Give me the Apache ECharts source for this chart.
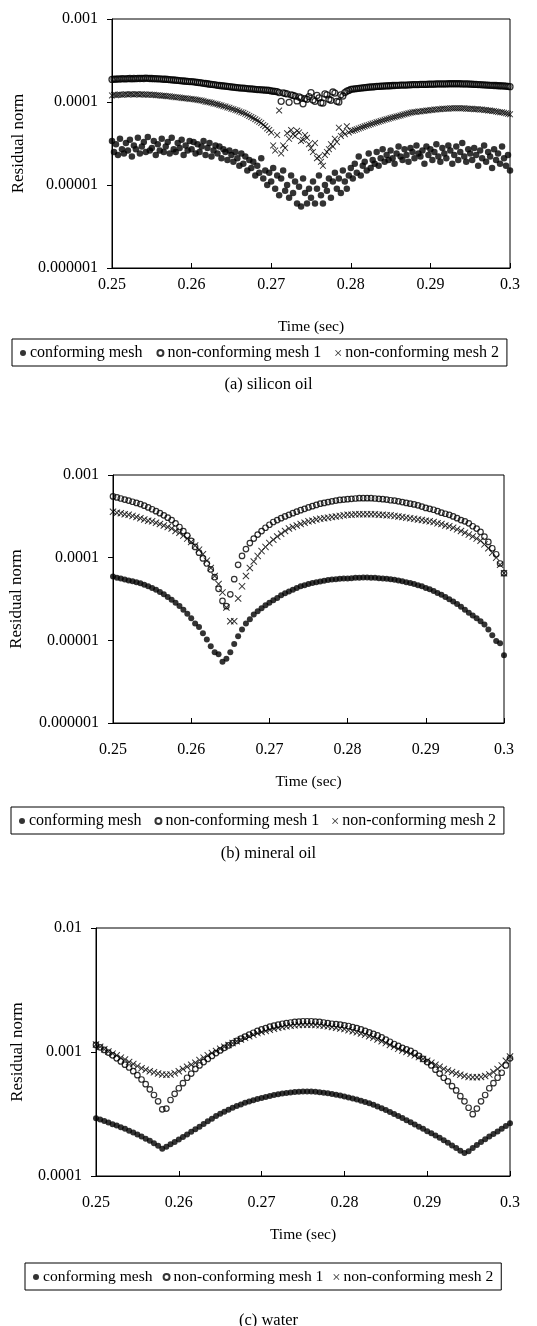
<!DOCTYPE html>
<html>
<head>
<meta charset="utf-8">
<script src="https://cdn.jsdelivr.net/npm/echarts@6/dist/echarts.min.js"></script>
<style>
  html, body { margin: 0; padding: 0; background: #fff; }
  #chart { width: 537px; height: 1326px; }
</style>
</head>
<body>
<div id="chart"></div>
<script>
// series names (legend)
var names = ['conforming mesh', 'non-conforming mesh 1', 'non-conforming mesh 2'];
var captions = ['(a) silicon oil', '(b) mineral oil', '(c) water'];

// tick labels
var xTicks = ['0.25', '0.26', '0.27', '0.28', '0.29', '0.3'];
var yTicksA = ['0.000001', '0.00001', '0.0001', '0.001'];
var yTicksB = ['0.000001', '0.00001', '0.0001', '0.001'];
var yTicksC = ['0.0001', '0.001', '0.01'];

// (a) silicon oil: dt = 0.00025 s
var aConf = [ // x 1e-5
  3.4, 2.5, 3.1, 2.3, 3.6, 2.7, 2.4, 3.2, 2.6, 3.5, 2.2, 3.0, 2.7, 3.7, 2.4, 2.9, 3.3, 2.5, 3.8, 2.6,
  2.8, 3.4, 2.3, 3.1, 2.6, 3.6, 2.5, 2.9, 3.3, 2.4, 3.7, 2.7, 2.5, 3.2, 2.8, 3.5, 2.3, 3.0, 2.6, 3.4,
  2.7, 3.3, 2.4, 3.1, 2.5, 2.9, 3.4, 2.3, 2.8, 3.2, 2.2, 2.6, 3.0, 2.4, 2.9, 2.1, 2.7, 2.5, 2.0, 2.6,
  2.3, 1.9, 2.5, 2.1, 1.7, 2.4, 1.8, 2.2, 1.5, 2.0, 1.6, 1.9, 1.3, 1.7, 1.4, 2.1, 1.2, 1.5, 1.0, 1.4,
  1.1, 1.6, 0.9, 1.3, 0.75, 1.2, 1.5, 0.85, 1.0, 0.7, 1.3, 0.8, 1.1, 0.6, 0.95, 0.55, 1.2, 0.8, 0.6, 0.9,
  0.7, 1.1, 0.6, 0.9, 1.3, 0.75, 0.6, 1.0, 0.85, 1.2, 0.7, 1.1, 1.4, 0.9, 1.2, 0.8, 1.5, 1.1, 0.9, 1.3,
  1.6, 1.2, 1.8, 1.4, 2.2, 1.3, 1.7, 1.9, 1.5, 2.4, 1.6, 2.0, 1.8, 2.5, 1.7, 2.1, 2.7, 1.9, 2.3, 2.0,
  2.6, 2.1, 1.8, 2.4, 2.9, 2.2, 2.0, 2.7, 2.3, 1.9, 2.8, 2.5, 2.1, 3.0, 2.4, 2.2, 2.6, 1.8, 2.9, 2.3,
  2.7, 2.0, 2.5, 3.1, 2.2, 1.9, 2.8, 2.4, 2.1, 3.0, 2.6, 1.8, 2.3, 2.9, 2.0, 2.5, 3.2, 2.2, 1.9, 2.7,
  2.4, 2.0, 2.8, 2.3, 1.7, 2.6, 2.1, 3.0, 1.9, 2.5, 2.2, 1.6, 2.7, 2.0, 2.4, 1.8, 2.9, 2.1, 1.7, 2.3,
  1.5
];
var aNc1 = [ // x 1e-4
  1.87, 1.89, 1.88, 1.90, 1.89, 1.91, 1.90, 1.90, 1.91, 1.92, 1.90, 1.92, 1.91, 1.93, 1.92, 1.93, 1.92, 1.94, 1.93, 1.92,
  1.92, 1.91, 1.91, 1.90, 1.90, 1.89, 1.88, 1.88, 1.87, 1.86, 1.85, 1.84, 1.83, 1.82, 1.81, 1.80, 1.79, 1.78, 1.77, 1.76,
  1.76, 1.75, 1.74, 1.72, 1.71, 1.70, 1.68, 1.67, 1.66, 1.64, 1.63, 1.62, 1.61, 1.59, 1.58, 1.57, 1.56, 1.55, 1.54, 1.53,
  1.52, 1.51, 1.50, 1.49, 1.48, 1.47, 1.47, 1.46, 1.45, 1.44, 1.44, 1.43, 1.42, 1.41, 1.41, 1.40, 1.40, 1.39, 1.39, 1.38,
  1.36, 1.35, 1.34, 1.33, 1.30, 1.02, 1.29, 1.27, 1.25, 0.99, 1.22, 1.20, 1.18, 1.03, 1.15, 1.12, 0.95, 1.10, 1.08, 1.16,
  1.30, 1.06, 1.02, 1.20, 1.12, 0.98, 0.97, 1.25, 1.22, 1.08, 1.05, 1.32, 1.28, 1.02, 1.00, 1.22, 1.18, 1.30, 1.35, 1.38,
  1.42, 1.43, 1.44, 1.45, 1.46, 1.47, 1.48, 1.49, 1.50, 1.51, 1.52, 1.52, 1.53, 1.54, 1.54, 1.55, 1.55, 1.56, 1.56, 1.57,
  1.57, 1.58, 1.58, 1.59, 1.59, 1.60, 1.60, 1.60, 1.60, 1.61, 1.61, 1.62, 1.62, 1.62, 1.62, 1.63, 1.63, 1.63, 1.63, 1.64,
  1.64, 1.64, 1.64, 1.65, 1.65, 1.65, 1.65, 1.65, 1.65, 1.66, 1.66, 1.66, 1.66, 1.66, 1.66, 1.66, 1.65, 1.65, 1.65, 1.65,
  1.64, 1.64, 1.63, 1.63, 1.62, 1.62, 1.61, 1.61, 1.60, 1.60, 1.59, 1.59, 1.58, 1.58, 1.57, 1.57, 1.56, 1.56, 1.55, 1.54,
  1.53
];
var aNc2 = [ // x 1e-5
  12.0, 12.2, 12.1, 12.2, 12.3, 12.2, 12.3, 12.4, 12.3, 12.4, 12.4, 12.3, 12.4, 12.4, 12.3, 12.4, 12.3, 12.3, 12.2, 12.3,
  12.2, 12.2, 12.1, 12.1, 12.0, 11.9, 11.9, 11.8, 11.7, 11.7, 11.6, 11.5, 11.4, 11.4, 11.3, 11.2, 11.1, 11.1, 11.0, 10.9,
  10.9, 10.8, 10.7, 10.6, 10.5, 10.4, 10.3, 10.1, 10.0, 9.9, 9.8, 9.6, 9.5, 9.4, 9.2, 9.1, 8.9, 8.8, 8.6, 8.5,
  8.3, 8.2, 8.0, 7.9, 7.7, 7.5, 7.4, 7.2, 7.0, 6.8, 6.6, 6.4, 6.2, 6.0, 5.8, 5.6, 5.3, 5.1, 4.8, 4.6,
  4.3, 3.0, 2.6, 4.0, 7.9, 2.4, 3.0, 2.8, 4.2, 3.6, 4.6, 4.1, 3.9, 4.5, 4.3, 3.4, 3.5, 4.0, 3.7, 3.1,
  2.8, 2.5, 3.2, 2.1, 2.2, 1.9, 1.7, 2.3, 2.5, 2.7, 3.1, 2.9, 3.6, 3.3, 4.9, 3.9, 4.4, 4.1, 5.1, 4.3,
  4.5, 4.5, 4.6, 4.7, 4.8, 4.9, 5.0, 5.1, 5.2, 5.3, 5.4, 5.5, 5.6, 5.7, 5.8, 5.9, 6.0, 6.1, 6.2, 6.3,
  6.4, 6.5, 6.6, 6.7, 6.8, 6.9, 7.0, 7.1, 7.2, 7.3, 7.4, 7.5, 7.6, 7.6, 7.7, 7.7, 7.8, 7.8, 7.9, 7.9,
  8.0, 8.0, 8.1, 8.1, 8.2, 8.2, 8.3, 8.3, 8.3, 8.3, 8.4, 8.4, 8.4, 8.4, 8.4, 8.4, 8.4, 8.4, 8.3, 8.3,
  8.3, 8.3, 8.2, 8.2, 8.2, 8.1, 8.1, 8.0, 8.0, 7.9, 7.9, 7.8, 7.8, 7.7, 7.6, 7.5, 7.5, 7.4, 7.3, 7.2,
  7.1
];

// (b) mineral oil: dt = 0.0005 s
var bConf = [ // x 1e-5
  5.9, 5.7, 5.6, 5.45, 5.3, 5.2, 5.05, 4.9, 4.7, 4.5,
  4.3, 4.1, 3.85, 3.6, 3.35, 3.1, 2.85, 2.6, 2.35, 2.1,
  1.85, 1.6, 1.45, 1.22, 1.02, 0.85, 0.72, 0.68, 0.55, 0.6,
  0.72, 0.9, 1.12, 1.35, 1.6, 1.8, 2.05, 2.25, 2.45, 2.65,
  2.85, 3.05, 3.25, 3.5, 3.7, 3.9, 4.1, 4.3, 4.5, 4.65,
  4.8, 4.95, 5.05, 5.15, 5.25, 5.35, 5.45, 5.5, 5.55, 5.6,
  5.6, 5.65, 5.7, 5.7, 5.75, 5.75, 5.7, 5.7, 5.65, 5.6,
  5.55, 5.5, 5.4, 5.3, 5.2, 5.05, 4.95, 4.8, 4.65, 4.5,
  4.3, 4.15, 3.95, 3.75, 3.55, 3.35, 3.15, 2.95, 2.75, 2.55,
  2.35, 2.15, 2.0, 1.85, 1.7, 1.55, 1.35, 1.15, 0.98, 0.92,
  0.66
];
var bNc1 = [ // x 1e-4
  5.5, 5.35, 5.2, 5.05, 4.9, 4.75, 4.6, 4.45, 4.25, 4.05,
  3.85, 3.65, 3.45, 3.25, 3.05, 2.85, 2.6, 2.35, 2.1, 1.85,
  1.6, 1.35, 1.15, 0.98, 0.85, 0.72, 0.58, 0.42, 0.3, 0.26,
  0.36, 0.55, 0.82, 1.05, 1.27, 1.5, 1.7, 1.9, 2.1, 2.3,
  2.5, 2.7, 2.85, 3.0, 3.15, 3.3, 3.45, 3.6, 3.75, 3.9,
  4.05, 4.2, 4.35, 4.5, 4.6, 4.7, 4.8, 4.9, 5.0, 5.05,
  5.1, 5.15, 5.2, 5.25, 5.25, 5.25, 5.25, 5.2, 5.15, 5.1,
  5.05, 4.95, 4.9, 4.8, 4.7, 4.6, 4.5, 4.4, 4.3, 4.15,
  4.0, 3.9, 3.8, 3.65, 3.5, 3.4, 3.3, 3.15, 3.0, 2.85,
  2.75, 2.6, 2.4, 2.25, 2.05, 1.8, 1.55, 1.3, 1.1, 0.85,
  0.65
];
var bNc2 = [ // x 1e-4
  3.6, 3.5, 3.45, 3.35, 3.3, 3.2, 3.1, 3.0, 2.9, 2.8,
  2.75, 2.65, 2.55, 2.45, 2.35, 2.25, 2.1, 2.0, 1.85, 1.7,
  1.55, 1.4, 1.25, 1.1, 0.92, 0.75, 0.6, 0.48, 0.38, 0.25,
  0.17, 0.17, 0.32, 0.45, 0.6, 0.75, 0.9, 1.05, 1.2, 1.35,
  1.5, 1.65, 1.8, 1.95, 2.1, 2.25, 2.35, 2.45, 2.55, 2.65,
  2.75, 2.8, 2.9, 2.95, 3.0, 3.05, 3.1, 3.15, 3.2, 3.25,
  3.3, 3.3, 3.35, 3.35, 3.35, 3.35, 3.35, 3.35, 3.3, 3.3,
  3.25, 3.25, 3.2, 3.15, 3.1, 3.05, 3.0, 2.95, 2.9, 2.85,
  2.8, 2.75, 2.7, 2.6, 2.55, 2.45, 2.4, 2.3, 2.2, 2.1,
  2.0, 1.9, 1.8, 1.7, 1.6, 1.45, 1.3, 1.15, 1.0, 0.82,
  0.65
];

// (c) water: dt = 0.0005 s, values x 1e-4
var cConf = [
  2.92, 2.85, 2.78, 2.70, 2.62, 2.55, 2.47, 2.40, 2.32, 2.24,
  2.16, 2.08, 2.00, 1.92, 1.84, 1.75, 1.66, 1.72, 1.80, 1.88,
  1.97, 2.06, 2.16, 2.27, 2.38, 2.50, 2.63, 2.77, 2.90, 3.04,
  3.17, 3.30, 3.42, 3.55, 3.67, 3.78, 3.89, 3.99, 4.08, 4.17,
  4.25, 4.33, 4.42, 4.50, 4.57, 4.63, 4.68, 4.72, 4.75, 4.78,
  4.80, 4.81, 4.80, 4.78, 4.74, 4.70, 4.65, 4.58, 4.52, 4.45,
  4.38, 4.30, 4.22, 4.14, 4.05, 3.96, 3.86, 3.75, 3.64, 3.52,
  3.40, 3.28, 3.16, 3.04, 2.93, 2.82, 2.71, 2.60, 2.50, 2.40,
  2.30, 2.21, 2.12, 2.03, 1.94, 1.85, 1.76, 1.68, 1.60, 1.53,
  1.58, 1.68, 1.78, 1.88, 1.98, 2.08, 2.18, 2.28, 2.40, 2.53,
  2.66
];
var cNc1 = [
  11.4, 10.9, 10.4, 9.9, 9.4, 8.9, 8.4, 7.9, 7.5, 7.0,
  6.5, 6.0, 5.5, 5.0, 4.5, 4.0, 3.45, 3.5, 4.1, 4.6,
  5.1, 5.6, 6.2, 6.7, 7.3, 7.8, 8.3, 8.8, 9.3, 9.8,
  10.3, 10.8, 11.3, 11.8, 12.3, 12.8, 13.3, 13.8, 14.3, 14.8,
  15.2, 15.6, 16.0, 16.3, 16.6, 16.9, 17.1, 17.3, 17.5, 17.6,
  17.7, 17.7, 17.7, 17.6, 17.5, 17.3, 17.1, 16.9, 16.8, 16.6,
  16.4, 16.2, 15.9, 15.6, 15.2, 14.8, 14.4, 14.0, 13.6, 13.1,
  12.6, 12.1, 11.6, 11.2, 10.8, 10.5, 10.2, 9.8, 9.3, 8.8,
  8.3, 7.8, 7.2, 6.7, 6.2, 5.8, 5.3, 4.9, 4.4, 4.0,
  3.55, 3.15, 3.5, 4.0, 4.5, 5.1, 5.6, 6.2, 6.8, 7.8,
  8.9
];
var cNc2 = [
  11.5, 11.0, 10.5, 10.1, 9.7, 9.4, 9.0, 8.7, 8.3, 8.0,
  7.7, 7.4, 7.2, 7.0, 6.85, 6.7, 6.6, 6.55, 6.6, 6.75,
  7.0, 7.3, 7.6, 7.9, 8.2, 8.6, 9.0, 9.4, 9.8, 10.2,
  10.6, 11.0, 11.4, 11.8, 12.2, 12.6, 13.0, 13.4, 13.8, 14.2,
  14.5, 14.8, 15.1, 15.4, 15.7, 15.9, 16.1, 16.3, 16.4, 16.5,
  16.6, 16.6, 16.6, 16.5, 16.4, 16.3, 16.1, 15.9, 15.7, 15.5,
  15.3, 15.0, 14.7, 14.4, 14.1, 13.8, 13.4, 13.0, 12.6, 12.2,
  11.8, 11.4, 11.0, 10.6, 10.3, 10.0, 9.7, 9.4, 9.1, 8.8,
  8.5, 8.2, 7.9, 7.6, 7.3, 7.1, 6.9, 6.7, 6.55, 6.4,
  6.3, 6.25, 6.25, 6.3, 6.4, 6.6, 6.9, 7.3, 7.8, 8.5,
  9.2
];

// time stamps of the samples
function times(t0, dt, n) {
    var t = [];
    for (var i = 0; i < n; i++) t.push(Math.round((t0 + i * dt) * 1e6) / 1e6);
    return t;
}
function pairs(vals, dt, unit) {
    var t = times(0.25, dt, vals.length);
    return vals.map(function (v, i) { return [t[i], v * unit]; });
}

var FONT = 'Liberation Serif';
var crossPath = 'path://M0,1L1,0L5,4L9,0L10,1L6,5L10,9L9,10L5,6L1,10L0,9L4,5Z';

function yLabel(labels, min) {
    return function (v) {
        var i = Math.round(Math.log10(v) - Math.log10(min));
        return labels[i] !== undefined ? labels[i] : '';
    };
}

var grids = [
    {left: 112, top: 19, width: 398, height: 249},
    {left: 107, top: 475, width: 397, height: 248},
    {left: 96, top: 928, width: 414, height: 248}
];
var yMins = [1e-6, 1e-6, 1e-4];
var yMaxs = [1e-3, 1e-3, 1e-2];
var yLabels = [yTicksA, yTicksB, yTicksC];
var xMargins = [9, 19, 19];
var yNameGaps = [85, 88, 70];
var legendTops = [339, 807, 1263];
var legendLefts = [12, 11, 25];
var legendFonts = [16, 16, 15.6];
var legendGaps = [14, 13, 10];
var captionTops = [371, 840, 1307];

var xAxes = [], yAxes = [], legends = [], titles = [];
grids.forEach(function (g, k) {
    g.show = true;
    g.borderColor = '#000';
    g.borderWidth = 1;
    xAxes.push({
        type: 'value', gridIndex: k, min: 0.25, max: 0.3, interval: 0.01,
        name: 'Time (sec)', nameLocation: 'middle', nameGap: 51,
        nameTextStyle: {fontFamily: FONT, fontSize: 15.5, color: '#000'},
        axisLine: {show: true, lineStyle: {color: '#000', width: 1}},
        axisTick: {show: true, inside: true, length: 5, lineStyle: {color: '#000'}},
        axisLabel: {
            margin: xMargins[k], fontFamily: FONT, fontSize: 16, color: '#000',
            formatter: function (v) { return xTicks[Math.round((v - 0.25) / 0.01)]; }
        },
        splitLine: {show: false}
    });
    yAxes.push({
        type: 'log', logBase: 10, gridIndex: k, min: yMins[k], max: yMaxs[k],
        name: 'Residual norm', nameLocation: 'middle', nameGap: yNameGaps[k],
        nameTextStyle: {fontFamily: FONT, fontSize: 17, color: '#000'},
        axisLine: {show: true, lineStyle: {color: '#000', width: 1}},
        axisTick: {show: true, inside: false, length: 5, lineStyle: {color: '#000'}},
        axisLabel: {margin: 14, fontFamily: FONT, fontSize: 16, color: '#000',
            formatter: yLabel(yLabels[k], yMins[k])},
        minorTick: {show: false},
        splitLine: {show: false}
    });
    legends.push({
        left: legendLefts[k], top: legendTops[k], orient: 'horizontal',
        data: names, itemWidth: 6, itemHeight: 6, itemGap: legendGaps[k],
        padding: [6, 8, 5, 8], borderColor: '#000', borderWidth: 1,
        textStyle: {fontFamily: FONT, fontSize: legendFonts[k], color: '#000', padding: [0, 0, 0, -1]},
        selectedMode: false
    });
    titles.push({
        text: captions[k], left: 'center', top: captionTops[k],
        textStyle: {fontFamily: FONT, fontSize: 16.5, fontWeight: 'normal', color: '#000'}
    });
});

function dotSeries(k, data, size) {
    return {name: names[0], type: 'scatter', xAxisIndex: k, yAxisIndex: k, data: data,
        symbol: 'circle', symbolSize: size, itemStyle: {color: '#000'}, silent: true, z: 3};
}
function ringSeries(k, data, size, bw) {
    return {name: names[1], type: 'scatter', xAxisIndex: k, yAxisIndex: k, data: data,
        symbol: 'circle', symbolSize: size,
        itemStyle: {color: 'rgba(255,255,255,0)', borderColor: '#000', borderWidth: bw}, silent: true, z: 4};
}
function crossSeries(k, data, size) {
    return {name: names[2], type: 'scatter', xAxisIndex: k, yAxisIndex: k, data: data,
        symbol: crossPath, symbolSize: size, itemStyle: {color: '#000'}, silent: true, z: 5};
}

var series = [
    dotSeries(0, pairs(aConf, 0.00025, 1e-5), 6.5),
    ringSeries(0, pairs(aNc1, 0.00025, 1e-4), 6, 1.3),
    crossSeries(0, pairs(aNc2, 0.00025, 1e-5), 6.5),
    dotSeries(1, pairs(bConf, 0.0005, 1e-5), 6),
    ringSeries(1, pairs(bNc1, 0.0005, 1e-4), 5.5, 1.2),
    crossSeries(1, pairs(bNc2, 0.0005, 1e-4), 7),
    dotSeries(2, pairs(cConf, 0.0005, 1e-4), 6),
    ringSeries(2, pairs(cNc1, 0.0005, 1e-4), 5.5, 1.2),
    crossSeries(2, pairs(cNc2, 0.0005, 1e-4), 7)
];

var myChart = echarts.init(document.getElementById('chart'), null, {renderer: 'canvas'});
var option = {
    backgroundColor: '#fff',
    animation: false,
    title: titles,
    legend: legends,
    grid: grids,
    xAxis: xAxes,
    yAxis: yAxes,
    series: series
};
myChart.setOption(option);
</script>
</body>
</html>
